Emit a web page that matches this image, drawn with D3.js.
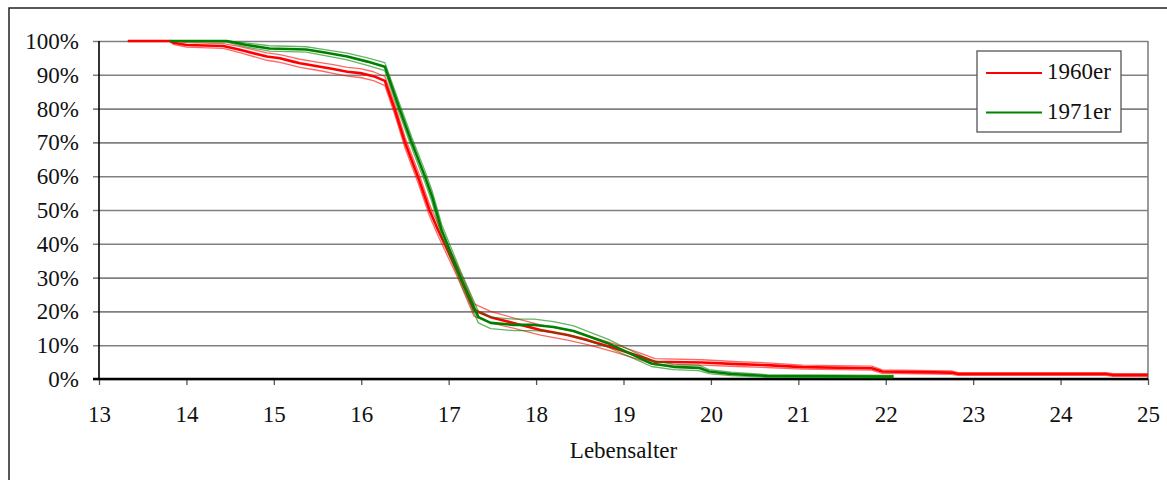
<!DOCTYPE html>
<html>
<head>
<meta charset="utf-8">
<script src="https://cdn.jsdelivr.net/npm/d3@7"></script>
<style>
  html, body { margin: 0; padding: 0; background: #fff; }
  svg { display: block; }
  svg text { font-family: "Liberation Serif", "Times New Roman", serif !important; }
</style>
</head>
<body>
<svg id="chart" width="1167" height="480"></svg>
<script>
// Share of each cohort still in school, by age (main estimate plus upper/lower bounds)
const ages1960  = [13.33, 13.81, 13.85, 14.0, 14.42, 14.6, 14.92, 15.07, 15.22, 15.3, 15.53, 15.68, 15.84, 15.99, 16.14, 16.27, 16.38, 16.5, 16.66, 16.78, 16.88, 17.11, 17.29, 17.48, 17.75, 18.05, 18.36, 18.59, 18.89, 19.2, 19.36, 19.9, 20.31, 20.64, 21.05, 21.84, 21.96, 22.75, 22.83, 24.52, 24.6, 25.0];
const main1960  = [1.0, 1.0, 0.995, 0.988, 0.985, 0.975, 0.954, 0.949, 0.939, 0.934, 0.924, 0.917, 0.909, 0.905, 0.896, 0.882, 0.80, 0.70, 0.59, 0.50, 0.44, 0.313, 0.204, 0.183, 0.165, 0.145, 0.130, 0.115, 0.092, 0.066, 0.051, 0.049, 0.044, 0.041, 0.035, 0.032, 0.022, 0.019, 0.015, 0.015, 0.012, 0.012];
const upper1960 = [1.0, 1.0, 1.0, 0.995, 0.992, 0.984, 0.965, 0.96, 0.951, 0.946, 0.936, 0.93, 0.922, 0.918, 0.909, 0.895, 0.815, 0.716, 0.607, 0.517, 0.457, 0.33, 0.222, 0.2, 0.18, 0.16, 0.145, 0.128, 0.104, 0.076, 0.06, 0.057, 0.051, 0.048, 0.041, 0.038, 0.027, 0.024, 0.019, 0.019, 0.016, 0.016];
const lower1960 = [1.0, 1.0, 0.99, 0.982, 0.978, 0.966, 0.943, 0.937, 0.927, 0.922, 0.912, 0.904, 0.896, 0.892, 0.883, 0.868, 0.785, 0.684, 0.573, 0.483, 0.423, 0.296, 0.186, 0.166, 0.15, 0.13, 0.115, 0.102, 0.08, 0.056, 0.042, 0.041, 0.037, 0.034, 0.029, 0.026, 0.017, 0.014, 0.011, 0.011, 0.008, 0.008];

const ages1971  = [13.81, 14.46, 14.69, 14.95, 15.37, 15.6, 15.84, 16.07, 16.27, 16.43, 16.58, 16.73, 16.81, 16.92, 17.15, 17.34, 17.48, 17.75, 17.98, 18.2, 18.43, 18.59, 18.82, 19.12, 19.32, 19.57, 19.86, 19.98, 20.23, 20.64, 22.09];
const main1971  = [1.0, 1.0, 0.988, 0.978, 0.975, 0.965, 0.954, 0.939, 0.924, 0.805, 0.698, 0.598, 0.54, 0.44, 0.293, 0.183, 0.166, 0.16, 0.16, 0.154, 0.142, 0.127, 0.106, 0.07, 0.046, 0.036, 0.033, 0.022, 0.015, 0.009, 0.007];
const upper1971 = [1.0, 1.0, 0.994, 0.986, 0.983, 0.974, 0.964, 0.95, 0.936, 0.82, 0.714, 0.615, 0.557, 0.457, 0.311, 0.2, 0.183, 0.177, 0.177, 0.17, 0.157, 0.141, 0.118, 0.08, 0.055, 0.044, 0.041, 0.028, 0.02, 0.013, 0.011];
const lower1971 = [1.0, 0.997, 0.982, 0.97, 0.967, 0.956, 0.944, 0.928, 0.912, 0.79, 0.682, 0.581, 0.523, 0.423, 0.275, 0.166, 0.149, 0.143, 0.143, 0.138, 0.127, 0.113, 0.094, 0.06, 0.037, 0.028, 0.025, 0.016, 0.01, 0.005, 0.003];

const xTicks = [13, 14, 15, 16, 17, 18, 19, 20, 21, 22, 23, 24, 25];
const yTicks = [0, 0.1, 0.2, 0.3, 0.4, 0.5, 0.6, 0.7, 0.8, 0.9, 1.0];
const seriesNames = ["1960er", "1971er"];
const xTitle = "Lebensalter";

const colors = { "1960er": "#ff0000", "1971er": "#008000" };
const serif = "Liberation Serif, Times New Roman, serif";

const svg = d3.select("#chart");
const plotLeft = 99, plotRight = 1148, plotTop = 41, plotBottom = 379;

const x = d3.scaleLinear().domain([13, 25]).range([plotLeft, plotRight]);
const y = d3.scaleLinear().domain([0, 1]).range([plotBottom, plotTop]);

// outer chart frame (runs off the right and bottom edges)
svg.append("rect")
  .attr("x", 9).attr("y", 8).attr("width", 1300).attr("height", 600)
  .attr("fill", "none").attr("stroke", "#222").attr("stroke-width", 1.5);

// horizontal gridlines, extended left as tick stubs
const yGrid = d3.axisLeft(y).tickValues(yTicks)
  .tickSize(-(plotRight - plotLeft + 6)).tickFormat("");
const gg = svg.append("g").attr("transform", `translate(${plotLeft - 6},0)`).call(yGrid);
gg.select(".domain").remove();
gg.selectAll(".tick line").attr("stroke", "#808080").attr("stroke-width", 1.6);

// right border of plot area
svg.append("line")
  .attr("x1", plotRight).attr("x2", plotRight).attr("y1", plotTop).attr("y2", plotBottom)
  .attr("stroke", "#808080").attr("stroke-width", 1.6);

// y tick labels
svg.append("g").attr("font-family", serif).selectAll("text").data(yTicks).join("text")
  .attr("x", 79).attr("y", d => y(d) + 8)
  .attr("text-anchor", "end")
  .attr("font-family", serif)
  .attr("font-size", 23).attr("fill", "#111")
  .text(d3.format(".0%"));

// x axis: ticks and labels
const xAxis = d3.axisBottom(x).tickValues(xTicks).tickSize(6).tickFormat(d3.format("d"));
const xg = svg.append("g").attr("transform", `translate(0,${plotBottom})`).call(xAxis)
  .attr("font-family", serif);
xg.select(".domain").remove();
xg.selectAll(".tick line").attr("stroke", "#555").attr("stroke-width", 1.3);
xg.selectAll(".tick text")
  .attr("font-family", serif)
  .attr("font-size", 23).attr("fill", "#111").attr("dy", null).attr("y", 43);

// axis lines
svg.append("line")
  .attr("x1", plotLeft).attr("x2", plotLeft).attr("y1", plotTop).attr("y2", plotBottom)
  .attr("stroke", "#000").attr("stroke-width", 1.6);
svg.append("line")
  .attr("x1", plotLeft - 6).attr("x2", plotRight).attr("y1", plotBottom).attr("y2", plotBottom)
  .attr("stroke", "#000").attr("stroke-width", 2.4);

// axis title
svg.append("text")
  .attr("x", (plotLeft + plotRight) / 2).attr("y", 458)
  .attr("text-anchor", "middle")
  .attr("font-family", serif)
  .attr("font-size", 23).attr("fill", "#111")
  .text(xTitle);

// series lines
const line = d3.line().x(d => x(d[0])).y(d => y(d[1]));
const series = [
  { name: "1960er", ages: ages1960, main: main1960, upper: upper1960, lower: lower1960 },
  { name: "1971er", ages: ages1971, main: main1971, upper: upper1971, lower: lower1971 }
];

const plot = svg.append("g");
series.forEach(s => {
  const c = colors[s.name];
  [s.upper, s.lower].forEach(vals => {
    plot.append("path")
      .datum(s.ages.map((a, i) => [a, vals[i]]))
      .attr("d", line)
      .attr("fill", "none").attr("stroke", c)
      .attr("stroke-opacity", 0.6).attr("stroke-width", 1.3)
      .attr("stroke-linejoin", "round");
  });
  plot.append("path")
    .datum(s.ages.map((a, i) => [a, s.main[i]]))
    .attr("d", line)
    .attr("fill", "none").attr("stroke", c)
    .attr("stroke-width", 2.6)
    .attr("stroke-linejoin", "round");
});

// legend
const lg = svg.append("g");
lg.append("rect")
  .attr("x", 977).attr("y", 51).attr("width", 144).attr("height", 81)
  .attr("fill", "#fff").attr("stroke", "#555").attr("stroke-width", 1.3);
seriesNames.forEach((name, i) => {
  const ly = 73 + i * 39.5;
  lg.append("line")
    .attr("x1", 986).attr("x2", 1042).attr("y1", ly).attr("y2", ly)
    .attr("stroke", colors[name]).attr("stroke-width", 2);
  lg.append("text")
    .attr("x", 1047).attr("y", ly + 6)
    .attr("font-family", serif)
    .attr("font-size", 23).attr("fill", "#111")
    .text(name);
});
</script>
</body>
</html>
